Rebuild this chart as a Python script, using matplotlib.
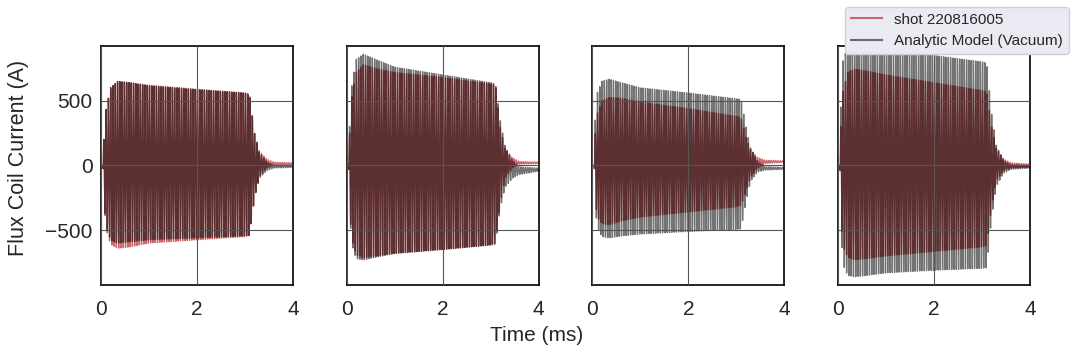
import numpy as np
import matplotlib.pyplot as plt

# envelope knots (ms), shared by all panels
env_t = [0.0, 0.04, 0.06, 0.1, 0.2, 0.35, 0.6, 1.0, 2.0, 3.0, 3.1, 3.2, 3.3, 3.45, 3.6, 4.0]

# upper / lower envelope of each trace (A), one list per panel
shot_upper = [
    [0, 0, 200, 420, 600, 650, 640, 620, 590, 560, 540, 250, 110, 50, 25, 20],
    [0, 0, 250, 520, 720, 780, 750, 720, 680, 630, 620, 300, 130, 60, 30, 25],
    [0, 0, 250, 400, 500, 525, 520, 490, 440, 380, 370, 220, 120, 60, 40, 35],
    [0, 0, 300, 560, 720, 745, 730, 700, 640, 580, 570, 300, 130, 50, 20, 10],
]
shot_lower = [
    [0, 0, -250, -480, -610, -640, -630, -600, -575, -550, -540, -250, -90, -20, 0, 5],
    [0, 0, -300, -560, -690, -715, -700, -680, -650, -615, -600, -300, -100, -20, 10, 15],
    [0, 0, -250, -400, -450, -460, -430, -400, -360, -320, -310, -200, -90, -20, 15, 25],
    [0, 0, -350, -620, -710, -730, -720, -700, -665, -630, -620, -320, -120, -40, -20, -15],
]
model_upper = [
    [0, 0, 200, 420, 600, 650, 640, 615, 585, 560, 550, 250, 100, 30, 0, -5],
    [0, 0, 300, 600, 820, 860, 820, 760, 700, 640, 630, 350, 150, 40, -10, -20],
    [0, 0, 350, 560, 650, 667, 640, 600, 560, 515, 510, 300, 130, 30, -10, -15],
    [0, 0, 450, 800, 920, 950, 930, 900, 850, 800, 790, 400, 150, 40, 5, 0],
]
model_lower = [
    [0, 0, -240, -460, -580, -600, -590, -575, -560, -545, -540, -250, -100, -40, -20, -15],
    [0, 0, -320, -600, -720, -730, -710, -680, -650, -615, -610, -330, -170, -100, -70, -45],
    [0, 0, -300, -480, -550, -560, -545, -530, -510, -495, -490, -280, -120, -50, -35, -30],
    [0, 0, -450, -760, -850, -860, -850, -830, -810, -795, -790, -400, -160, -60, -30, -20],
]

carrier_khz = 21.0
shot_label = "shot 220816005"
model_label = "Analytic Model (Vacuum)"

plt.rcParams['font.family'] = ['Liberation Sans', 'DejaVu Sans']
plt.rcParams['text.color'] = '#262626'
plt.rcParams['xtick.color'] = '#262626'
plt.rcParams['ytick.color'] = '#262626'
plt.rcParams['axes.labelcolor'] = '#262626'

t = np.linspace(0, 4, 8001)
phase = np.sin(2 * np.pi * carrier_khz * t)

fig, axes = plt.subplots(1, 4, figsize=(10.74, 3.52), dpi=100, sharey=True)
fig.subplots_adjust(left=0.094, right=0.959, bottom=0.19, top=0.87, wspace=0.28)

for i, ax in enumerate(axes):
    hi_s = np.interp(t, env_t, shot_upper[i])
    lo_s = np.interp(t, env_t, shot_lower[i])
    hi_m = np.interp(t, env_t, model_upper[i])
    lo_m = np.interp(t, env_t, model_lower[i])
    shot = (hi_s + lo_s) / 2 + (hi_s - lo_s) / 2 * phase
    model = (hi_m + lo_m) / 2 + (hi_m - lo_m) / 2 * phase
    ax.plot(t, shot, color='#c44e52', alpha=0.85, lw=1.0, label=shot_label)
    ax.plot(t, model, color='black', alpha=0.55, lw=1.0, label=model_label)

    ax.set_xlim(0, 4)
    ax.set_ylim(-925, 925)
    ax.set_xticks([0, 2, 4])
    ax.set_yticks([-500, 0, 500])
    ax.grid(True, color='#555555', lw=0.8)
    ax.set_axisbelow(False)
    ax.tick_params(length=0, labelsize=15)
    ax.tick_params(axis='x', pad=11)
    ax.tick_params(axis='y', pad=6)
    for s in ax.spines.values():
        s.set_color('black')
        s.set_linewidth(1.2)

fig.text(0.017, 0.551, "Flux Coil Current (A)", rotation=90, ha='center', va='center', fontsize=15.5)
fig.text(0.5, 0.03, "Time (ms)", ha='center', fontsize=15)

h, l = axes[0].get_legend_handles_labels()
leg = fig.legend(h, l, loc='upper right', bbox_to_anchor=(0.998, 0.99),
                 fontsize=11, facecolor='#eaeaf2', edgecolor='#d0d0d8',
                 framealpha=1, borderaxespad=0.2)
for line in leg.get_lines():
    line.set_linewidth(1.5)

fig.savefig('out.png', dpi=100)
